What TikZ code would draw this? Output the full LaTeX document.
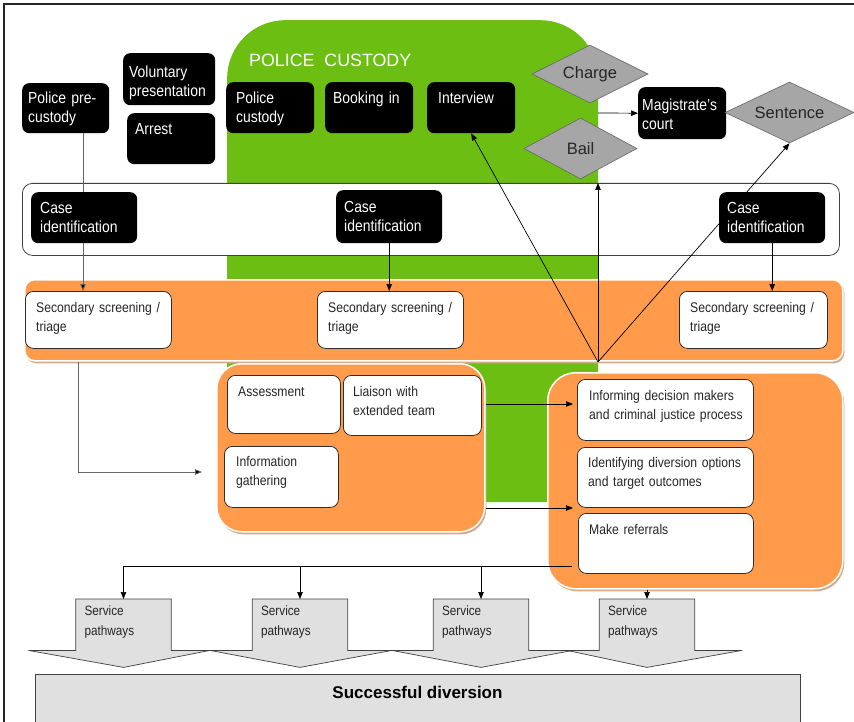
\documentclass[tikz,border=0pt]{standalone}
\usepackage{fontspec}
\setmainfont{Liberation Sans}[FakeStretch=0.87]
\newfontfamily\plainsans{Liberation Sans}
\usetikzlibrary{arrows.meta,shapes.geometric,calc}
\definecolor{cgreen}{RGB}{108,190,18}
\definecolor{corange}{RGB}{255,155,75}
\definecolor{ctan}{RGB}{212,170,140}
\definecolor{cdia}{RGB}{166,166,166}
\definecolor{cpath}{RGB}{224,224,224}
\definecolor{cline}{RGB}{45,45,45}
\begin{document}
\begin{tikzpicture}[x=1pt,y=-1pt,
  blk/.style={anchor=north west, fill=black, rounded corners=7pt, inner sep=0pt},
  wbx/.style={anchor=north west, fill=white, draw=cline, line width=0.8pt, rounded corners=8pt, inner sep=0pt},
  btxt/.style={anchor=base west, inner sep=0pt, text=white, align=left, text width=#1, font=\fontsize{16}{19}\selectfont},
  btxt/.default=80pt,
  wtxt/.style={anchor=base west, inner sep=0pt, text=black!85, align=left, text width=#1, font=\fontsize{14}{19}\selectfont},
  wtxt/.default=125pt,
  sptxt/.style={anchor=base west, inner sep=0pt, text=black!85, align=left, text width=70pt, font=\fontsize{13.5}{19.3}\selectfont},
  dia/.style={diamond, aspect=2.2, fill=cdia, draw=black!60, line width=0.6pt, inner sep=0pt, text=black!85, font=\plainsans\fontsize{16.5}{19}\selectfont},
  panel/.style={anchor=north west, inner sep=0pt, fill=corange, draw=white, line width=1.5pt,
     preaction={fill=ctan, transform canvas={xshift=1.5pt, yshift=-2.5pt}}},
  arr/.style={-{Triangle[length=7pt,width=5.5pt]}, line width=0.7pt, draw=black},
  garr/.style={-{Triangle[length=7pt,width=5.5pt,fill=black]}, line width=0.8pt, draw=black!60}
]
\useasboundingbox (0,0) rectangle (854,722);
\clip (0,0) rectangle (854,722);
\fill[white] (0,0) rectangle (854,722);
\draw[line width=1.6pt, black!85] (4,740) -- (4,4) -- (870,4);

% police custody area
\node[fill=cgreen, rounded corners=58pt, minimum width=371pt, minimum height=482pt, anchor=north west, inner sep=0pt] (custody) at (227,20) {};
\node[anchor=base west, inner sep=0pt, text=white, font=\plainsans\fontsize{17.8}{21}\selectfont] (custody-t) at (249,66.5) {POLICE\hspace{10pt}CUSTODY};

% bands and panels
\node[anchor=north west, inner sep=0pt, minimum width=817pt, minimum height=72pt, fill=white, draw=black!75, line width=0.8pt, rounded corners=10pt] (cband) at (22,183) {};
\node[panel, minimum width=818pt, minimum height=81pt, rounded corners=10pt] (oband) at (24,279) {};
\node[panel, minimum width=268pt, minimum height=168pt, rounded corners=25pt] (lpanel) at (216,363) {};
\node[panel, minimum width=295pt, minimum height=216pt, rounded corners=28pt] (rpanel) at (547,372) {};

% secondary screening
\node[wbx, minimum width=146pt, minimum height=57pt] (ss1) at (25,291) {};
\node[wtxt] (ss1-t) at ($(ss1.north west)+(11,21)$) {Secondary screening /\\triage};
\node[wbx, minimum width=146pt, minimum height=57pt] (ss2) at (317,291) {};
\node[wtxt] (ss2-t) at ($(ss2.north west)+(11,21)$) {Secondary screening /\\triage};
\node[wbx, minimum width=148pt, minimum height=57pt] (ss3) at (679,291) {};
\node[wtxt] (ss3-t) at ($(ss3.north west)+(11,21)$) {Secondary screening /\\triage};

% pre-custody and its line (behind case identification box)
\node[blk, minimum width=87pt, minimum height=50pt] (pre) at (22,83) {};
\node[btxt=75pt] (pre-t) at ($(pre.north west)+(6,20.5)$) {Police pre-\\custody};
\draw[garr] (pre.south -| 83,0) -- (ss1.north -| 83,0);

% black boxes
\node[blk, minimum width=92pt, minimum height=52pt] (vol) at (123,53) {};
\node[btxt=84pt] (vol-t) at ($(vol.north west)+(6,24.5)$) {Voluntary\\presentation};
\node[blk, minimum width=88pt, minimum height=51pt] (arr) at (127,113) {};
\node[btxt=75pt] (arr-t) at ($(arr.north west)+(8,22)$) {Arrest};
\node[blk, minimum width=88pt, minimum height=51pt] (pc) at (226,82) {};
\node[btxt=75pt] (pc-t) at ($(pc.north west)+(10,22)$) {Police\\custody};
\node[blk, minimum width=88pt, minimum height=51pt] (book) at (325,82) {};
\node[btxt=78pt] (book-t) at ($(book.north west)+(8,22)$) {Booking in};
\node[blk, minimum width=88pt, minimum height=51pt] (int) at (427,82) {};
\node[btxt=75pt] (int-t) at ($(int.north west)+(11,22)$) {Interview};
\node[blk, minimum width=88pt, minimum height=52pt] (mag) at (638,87) {};
\node[btxt=82pt] (mag-t) at ($(mag.north west)+(4,24)$) {Magistrate’s\\court};
\node[blk, minimum width=106pt, minimum height=51pt] (cid1) at (31,192) {};
\node[btxt=92pt] (cid1-t) at ($(cid1.north west)+(9,21.3)$) {Case\\identification};
\node[blk, minimum width=106pt, minimum height=53pt] (cid2) at (336,190) {};
\node[btxt=92pt] (cid2-t) at ($(cid2.north west)+(8,22.7)$) {Case\\identification};
\node[blk, minimum width=106pt, minimum height=51pt] (cid3) at (719,192) {};
\node[btxt=92pt] (cid3-t) at ($(cid3.north west)+(8,21.3)$) {Case\\identification};

% diamonds
\node[dia, minimum width=116pt, minimum height=58pt] (charge) at (590,74) {Charge};
\node[dia, minimum width=113pt, minimum height=61pt] (bail) at (580.5,148.5) {Bail};
\node[dia, minimum width=129pt, minimum height=61pt] (sentence) at (789.5,112.5) {Sentence};

% assessment panel boxes
\node[wbx, minimum width=113pt, minimum height=58pt] (ass) at (227,375) {};
\node[wtxt=98pt] (ass-t) at ($(ass.north west)+(11,21.7)$) {Assessment};
\node[wbx, minimum width=138pt, minimum height=60pt] (lia) at (343,375) {};
\node[wtxt=125pt] (lia-t) at ($(lia.north west)+(10,21.7)$) {Liaison with\\extended team};
\node[wbx, minimum width=114pt, minimum height=61pt] (inf) at (224,446) {};
\node[wtxt=100pt] (inf-t) at ($(inf.north west)+(12,20)$) {Information\\gathering};

% right panel boxes
\node[wbx, minimum width=176pt, minimum height=61pt] (dec) at (577,379) {};
\node[wtxt=162pt] (dec-t) at ($(dec.north west)+(12,21.7)$) {Informing decision makers\\and criminal justice process};
\node[wbx, minimum width=176pt, minimum height=60pt] (div) at (577,447) {};
\node[wtxt=162pt] (div-t) at ($(div.north west)+(11,20.3)$) {Identifying diversion options\\and target outcomes};
\node[wbx, minimum width=175pt, minimum height=60pt] (ref) at (578,513) {};
\node[wtxt=160pt] (ref-t) at ($(ref.north west)+(11,21)$) {Make referrals};

% service pathways
\foreach \i/\cx/\l/\r in {1/123.5/95/86.5, 2/300/90/92, 3/481/89/92, 4/647/80/95}{
  \node[anchor=north, minimum width=95pt, minimum height=51pt, inner sep=0pt] (sp\i) at (\cx,599) {};
  \filldraw[fill=cpath, draw=black!75, line width=0.7pt, line join=miter]
    (sp\i.north west) -- (sp\i.north east) -- (sp\i.south east) -- ($(sp\i.south)+(\r,0)$)
    -- ($(sp\i.south)+(0,17)$) -- ($(sp\i.south)+(-\l,0)$) -- (sp\i.south west) -- cycle;
  \node[sptxt] (sp\i-t) at ($(sp\i.north west)+(8.6,16.7)$) {Service\\pathways};
}

% successful diversion
\node[anchor=north west, minimum width=765pt, minimum height=48pt, fill=cpath, draw=black!75, line width=0.8pt, inner sep=0pt] (succ) at (35,674) {};
\node[anchor=base, inner sep=0pt, font=\plainsans\bfseries\fontsize{17}{20}\selectfont] (succ-t) at (417.5,698.3) {Successful diversion};

% connectors
\coordinate (hub) at (598,362);
\coordinate (gedge) at (598,113);
\coordinate (igin) at (202,472);
\coordinate (bstart) at (572,566);
\draw[arr] (cid2.south) -- (cid2.south |- ss2.north);
\draw[arr] (cid3.south) -- (cid3.south |- ss3.north);
\draw[arr] (hub) -- (int.south);
\draw[arr] (hub) -- (hub |- cband.north);
\draw[arr] (hub) -- (sentence.south);
\draw[arr] (gedge) -- (mag.west);
\draw[garr] (oband.south -| 78,0) |- (igin);
\draw[arr] (lpanel.east |- 0,404) -- ([xshift=-4pt]dec.west |- 0,404);
\draw[arr] (lpanel.east |- 0,508) -- ([xshift=-4pt]div.west |- 0,508);
\draw[arr] (bstart) -| (sp1.north);
\draw[arr] (sp2.north |- bstart) -- (sp2.north);
\draw[arr] (sp3.north |- bstart) -- (sp3.north);
\draw[arr] (sp4.north |- rpanel.south) -- (sp4.north);
\end{tikzpicture}
\end{document}
